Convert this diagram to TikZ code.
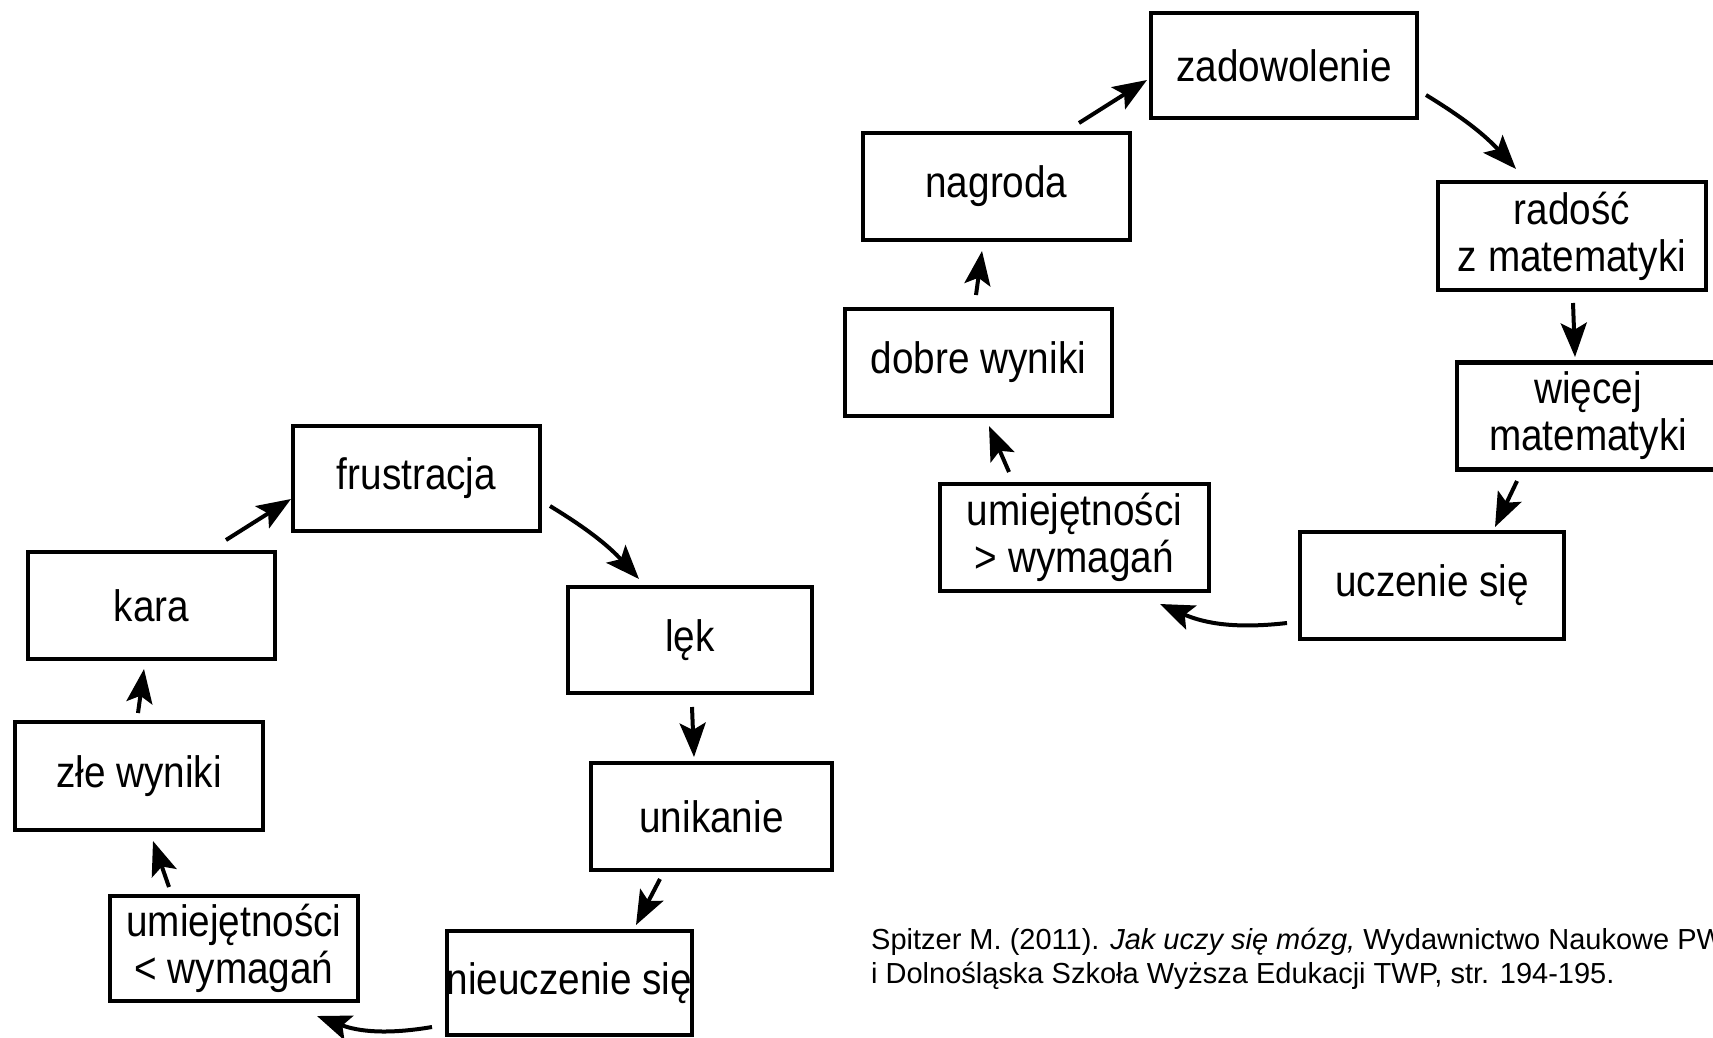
\documentclass[tikz,border=0pt]{standalone}
\usepackage{fontspec}
\setmainfont{Liberation Sans}
\newfontfamily\boxfont{Liberation Sans}[FakeStretch=0.88]
\usetikzlibrary{arrows.meta,calc}
\tikzset{
  box/.style={draw=black, line width=4.5pt, fill=white, inner sep=0pt,
    align=center, font=\boxfont\fontsize{44}{47}\selectfont},
  arr/.style={line width=4pt, -{Stealth[length=34pt,width=26pt,inset=7pt]}},
  cite/.style={anchor=west, align=left, inner sep=0pt,
    font=\fontsize{29}{34}\selectfont}
}
\begin{document}
\begin{tikzpicture}[x=1pt,y=-1pt]
\clip (0,0) rectangle (1713,1037);
\fill[white] (0,0) rectangle (1713,1037);
% right cycle
\node[box, minimum width=266pt, minimum height=105pt] (zad) at (1284,65.5) {zadowolenie};
\node[box, minimum width=267pt, minimum height=107pt] (nag) at (996.5,186.5) {nagroda};
\node[box, minimum width=268pt, minimum height=108pt] (rad) at (1572,236) {radość\\z matematyki};
\node[box, minimum width=267pt, minimum height=107pt] (dob) at (978.5,362.5) {dobre wyniki};
\node[box, minimum width=262pt, minimum height=107pt] (wie) at (1588,416) {więcej\\matematyki};
\node[box, minimum width=269pt, minimum height=107pt] (umw) at (1074.5,537.5) {umiejętności\\{>} wymagań};
\node[box, minimum width=264pt, minimum height=107pt] (ucz) at (1432,585.5) {uczenie się};
% left cycle
\node[box, minimum width=247pt, minimum height=105pt] (fru) at (416.5,478.5) {frustracja};
\node[box, minimum width=247pt, minimum height=107pt] (kar) at (151.5,605.5) {kara};
\node[box, minimum width=244pt, minimum height=106pt] (lek) at (690,640) {lęk};
\node[box, minimum width=248pt, minimum height=108pt] (zle) at (139,776) {złe wyniki};
\node[box, minimum width=241pt, minimum height=107pt] (uni) at (711.5,816.5) {unikanie};
\node[box, minimum width=248pt, minimum height=105pt] (ums) at (234,948.5) {umiejętności\\{<} wymagań};
\node[box, minimum width=245pt, minimum height=104pt] (nie) at (569.5,983) {nieuczenie się};
% right arrows
\draw[arr] ([shift={(82.5,-63.5)}]nag.center) -- ([shift={(-137,14.5)}]zad.center);
\draw[arr] ([shift={(142,29.5)}]zad.center) to[bend left=8] ([shift={(-56,-67)}]rad.center);
\draw[arr] ([shift={(1,67)}]rad.center) -- ([shift={(-13,-59)}]wie.center);
\draw[arr] ([shift={(-71,65)}]wie.center) -- ([shift={(63,-58.5)}]ucz.center);
\draw[arr] ([shift={(-145,37.5)}]ucz.center) to[bend left=15] ([shift={(85.5,66.5)}]umw.center);
\draw[arr] ([shift={(-65.5,-65.5)}]umw.center) -- ([shift={(10.5,63.5)}]dob.center);
\draw[arr] ([shift={(-2.5,-67.5)}]dob.center) -- ([shift={(-14.5,64.5)}]nag.center);
% left arrows
\draw[arr] ([shift={(74.5,-65.5)}]kar.center) -- ([shift={(-125.5,20.5)}]fru.center);
\draw[arr] ([shift={(133.5,27.5)}]fru.center) to[bend left=8] ([shift={(-51,-61)}]lek.center);
\draw[arr] ([shift={(2,67)}]lek.center) -- ([shift={(-17.5,-59.5)}]uni.center);
\draw[arr] ([shift={(-51.5,62.5)}]uni.center) -- ([shift={(66.5,-58)}]nie.center);
\draw[arr] ([shift={(-137.5,44)}]nie.center) to[bend left=15] ([shift={(83,67.5)}]ums.center);
\draw[arr] ([shift={(-65,-61.5)}]ums.center) -- ([shift={(14,65)}]zle.center);
\draw[arr] ([shift={(-1,-63)}]zle.center) -- ([shift={(-7.5,63.5)}]kar.center);
% citation
\node[cite] (cit) at (871,959) {Spitzer M. (2011). \textit{Jak uczy się mózg,} Wydawnictwo Naukowe PWN\\i Dolnośląska Szkoła Wyższa Edukacji TWP, str. 194-195.};
\end{tikzpicture}
\end{document}
